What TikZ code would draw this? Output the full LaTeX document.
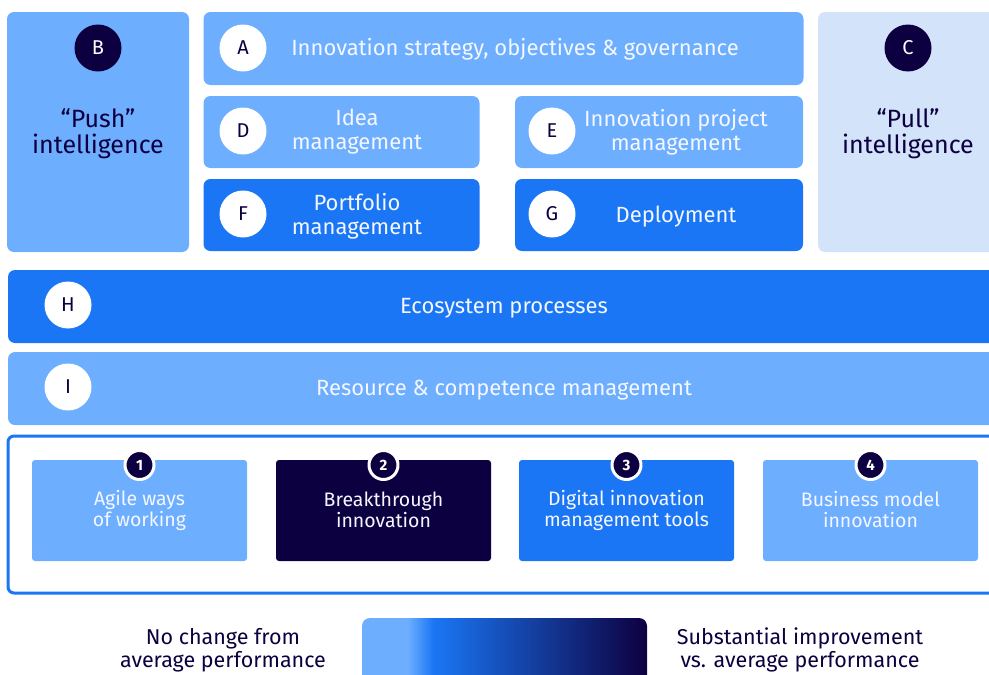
\documentclass[tikz,border=0pt]{standalone}
\usepackage{fontspec}
\setmainfont{Fira Sans}
\usetikzlibrary{positioning}
\definecolor{lightblue}{HTML}{6DAEFF}
\definecolor{midblue}{HTML}{1A76F5}
\definecolor{navy}{HTML}{0D0040}
\definecolor{paleblue}{HTML}{D3E3FA}
\definecolor{softwhite}{HTML}{F4F7FF}
\pgfdeclarehorizontalshading{legendbar}{100bp}{color(0bp)=(lightblue); color(25bp)=(lightblue); color(33bp)=(lightblue); color(37.5bp)=(midblue); color(75bp)=(navy); color(100bp)=(navy)}
\begin{document}
\begin{tikzpicture}[x=1pt, y=-1pt, line join=round, line cap=round,
	font=\fontsize{22}{24}\selectfont,
	panel/.style={rounded corners=7pt, inner sep=0pt, outer sep=0pt},
	tile/.style={rounded corners=3pt, inner sep=0pt, minimum width=215pt, minimum height=101pt},
	letter/.style={circle, minimum size=47pt, inner sep=0pt, fill=white, text=navy, font=\fontsize{20}{20}\selectfont},
	darkletter/.style={letter, fill=navy, text=white},
	boxtext/.style={text=softwhite, align=center},
	sidetext/.style={text=navy, align=center, font=\fontsize{25}{26}\selectfont},
	legendtext/.style={text=navy, align=center, font=\fontsize{21.5}{23}\selectfont},
	badge/.style={circle, fill=navy, draw=white, line width=3pt, minimum size=29pt, inner sep=0pt, text=white, font=\fontsize{15}{15}\selectfont\bfseries}]
	\clip (0,0) rectangle (989,675);
	% top block
	\node[panel, fill=lightblue, minimum width=182pt, minimum height=240pt] (boxB) at (98,132) {};
	\node[panel, fill=lightblue, minimum width=600pt, minimum height=73pt] (boxA) at (503.5,48.5) {};
	\node[panel, fill=lightblue, minimum width=276pt, minimum height=72pt] (boxD) at (341.5,132) {};
	\node[panel, fill=lightblue, minimum width=288pt, minimum height=72pt] (boxE) at (659,132) {};
	\node[panel, fill=midblue, minimum width=276pt, minimum height=72pt] (boxF) at (341.5,215) {};
	\node[panel, fill=midblue, minimum width=288pt, minimum height=72pt] (boxG) at (659,215) {};
	\node[panel, fill=paleblue, minimum width=200pt, minimum height=240pt] (boxC) at (918,132) {};
	\node[darkletter] (circB) at (98,48) {B};
	\node[darkletter] (circC) at (908,48) {C};
	\node[sidetext] (txtB) at (98,133.5) {“Push”\\intelligence};
	\node[sidetext] (txtC) at (908,133.5) {“Pull”\\intelligence};
	\node[letter] (circA) at (243,48) {A};
	\node[letter] (circD) at (243,131) {D};
	\node[letter] (circE) at (552,131) {E};
	\node[letter] (circF) at (243,214) {F};
	\node[letter] (circG) at (552,214) {G};
	\node[boxtext] (txtA) at (515,49) {Innovation strategy, objectives \& governance};
	\node[boxtext] (txtD) at (357,132) {Idea\\management};
	\node[boxtext] (txtE) at (676,132) {Innovation project\\management};
	\node[boxtext] (txtF) at (357,216) {Portfolio\\management};
	\node[boxtext] (txtG) at (676,217) {Deployment};
	% process bands
	\node[panel, fill=midblue, minimum width=1010pt, minimum height=73pt] (boxH) at (513,306.5) {};
	\node[panel, fill=lightblue, minimum width=1010pt, minimum height=73pt] (boxI) at (513,388.5) {};
	\node[letter] (circH) at (68,305) {H};
	\node[letter] (circI) at (68,387) {I};
	\node[boxtext] (txtH) at (504,308) {Ecosystem processes};
	\node[boxtext] (txtI) at (504,390) {Resource \& competence management};
	% trends
	\node[panel, draw=midblue, line width=3pt, rounded corners=6pt, minimum width=1010pt, minimum height=157pt] (frame) at (513,514.5) {};
	\foreach \n/\xc/\col/\txt in {1/139.5/lightblue/{Agile ways\\of working}, 2/383.5/navy/{Breakthrough\\innovation}, 3/626.5/midblue/{Digital innovation\\management tools}, 4/870.5/lightblue/{Business model\\innovation}}{
		\node[tile, fill=\col] (tile\n) at (\xc,510.5) {};
		\node[boxtext, font=\fontsize{19.5}{21}\selectfont] (tiletxt\n) at (\xc,510) {\txt};
		\node[badge] (badge\n) at (\xc,465) {\n};
	}
	% legend
	\node[rounded corners=8pt, shade, shading=legendbar, minimum width=285pt, minimum height=80pt, inner sep=0pt] (bar) at (504.5,658) {};
	\node[legendtext] (lowend) at (223,650) {No change from\\average performance};
	\node[legendtext] (highend) at (800,650) {Substantial improvement\\vs. average performance};
\end{tikzpicture}
\end{document}
